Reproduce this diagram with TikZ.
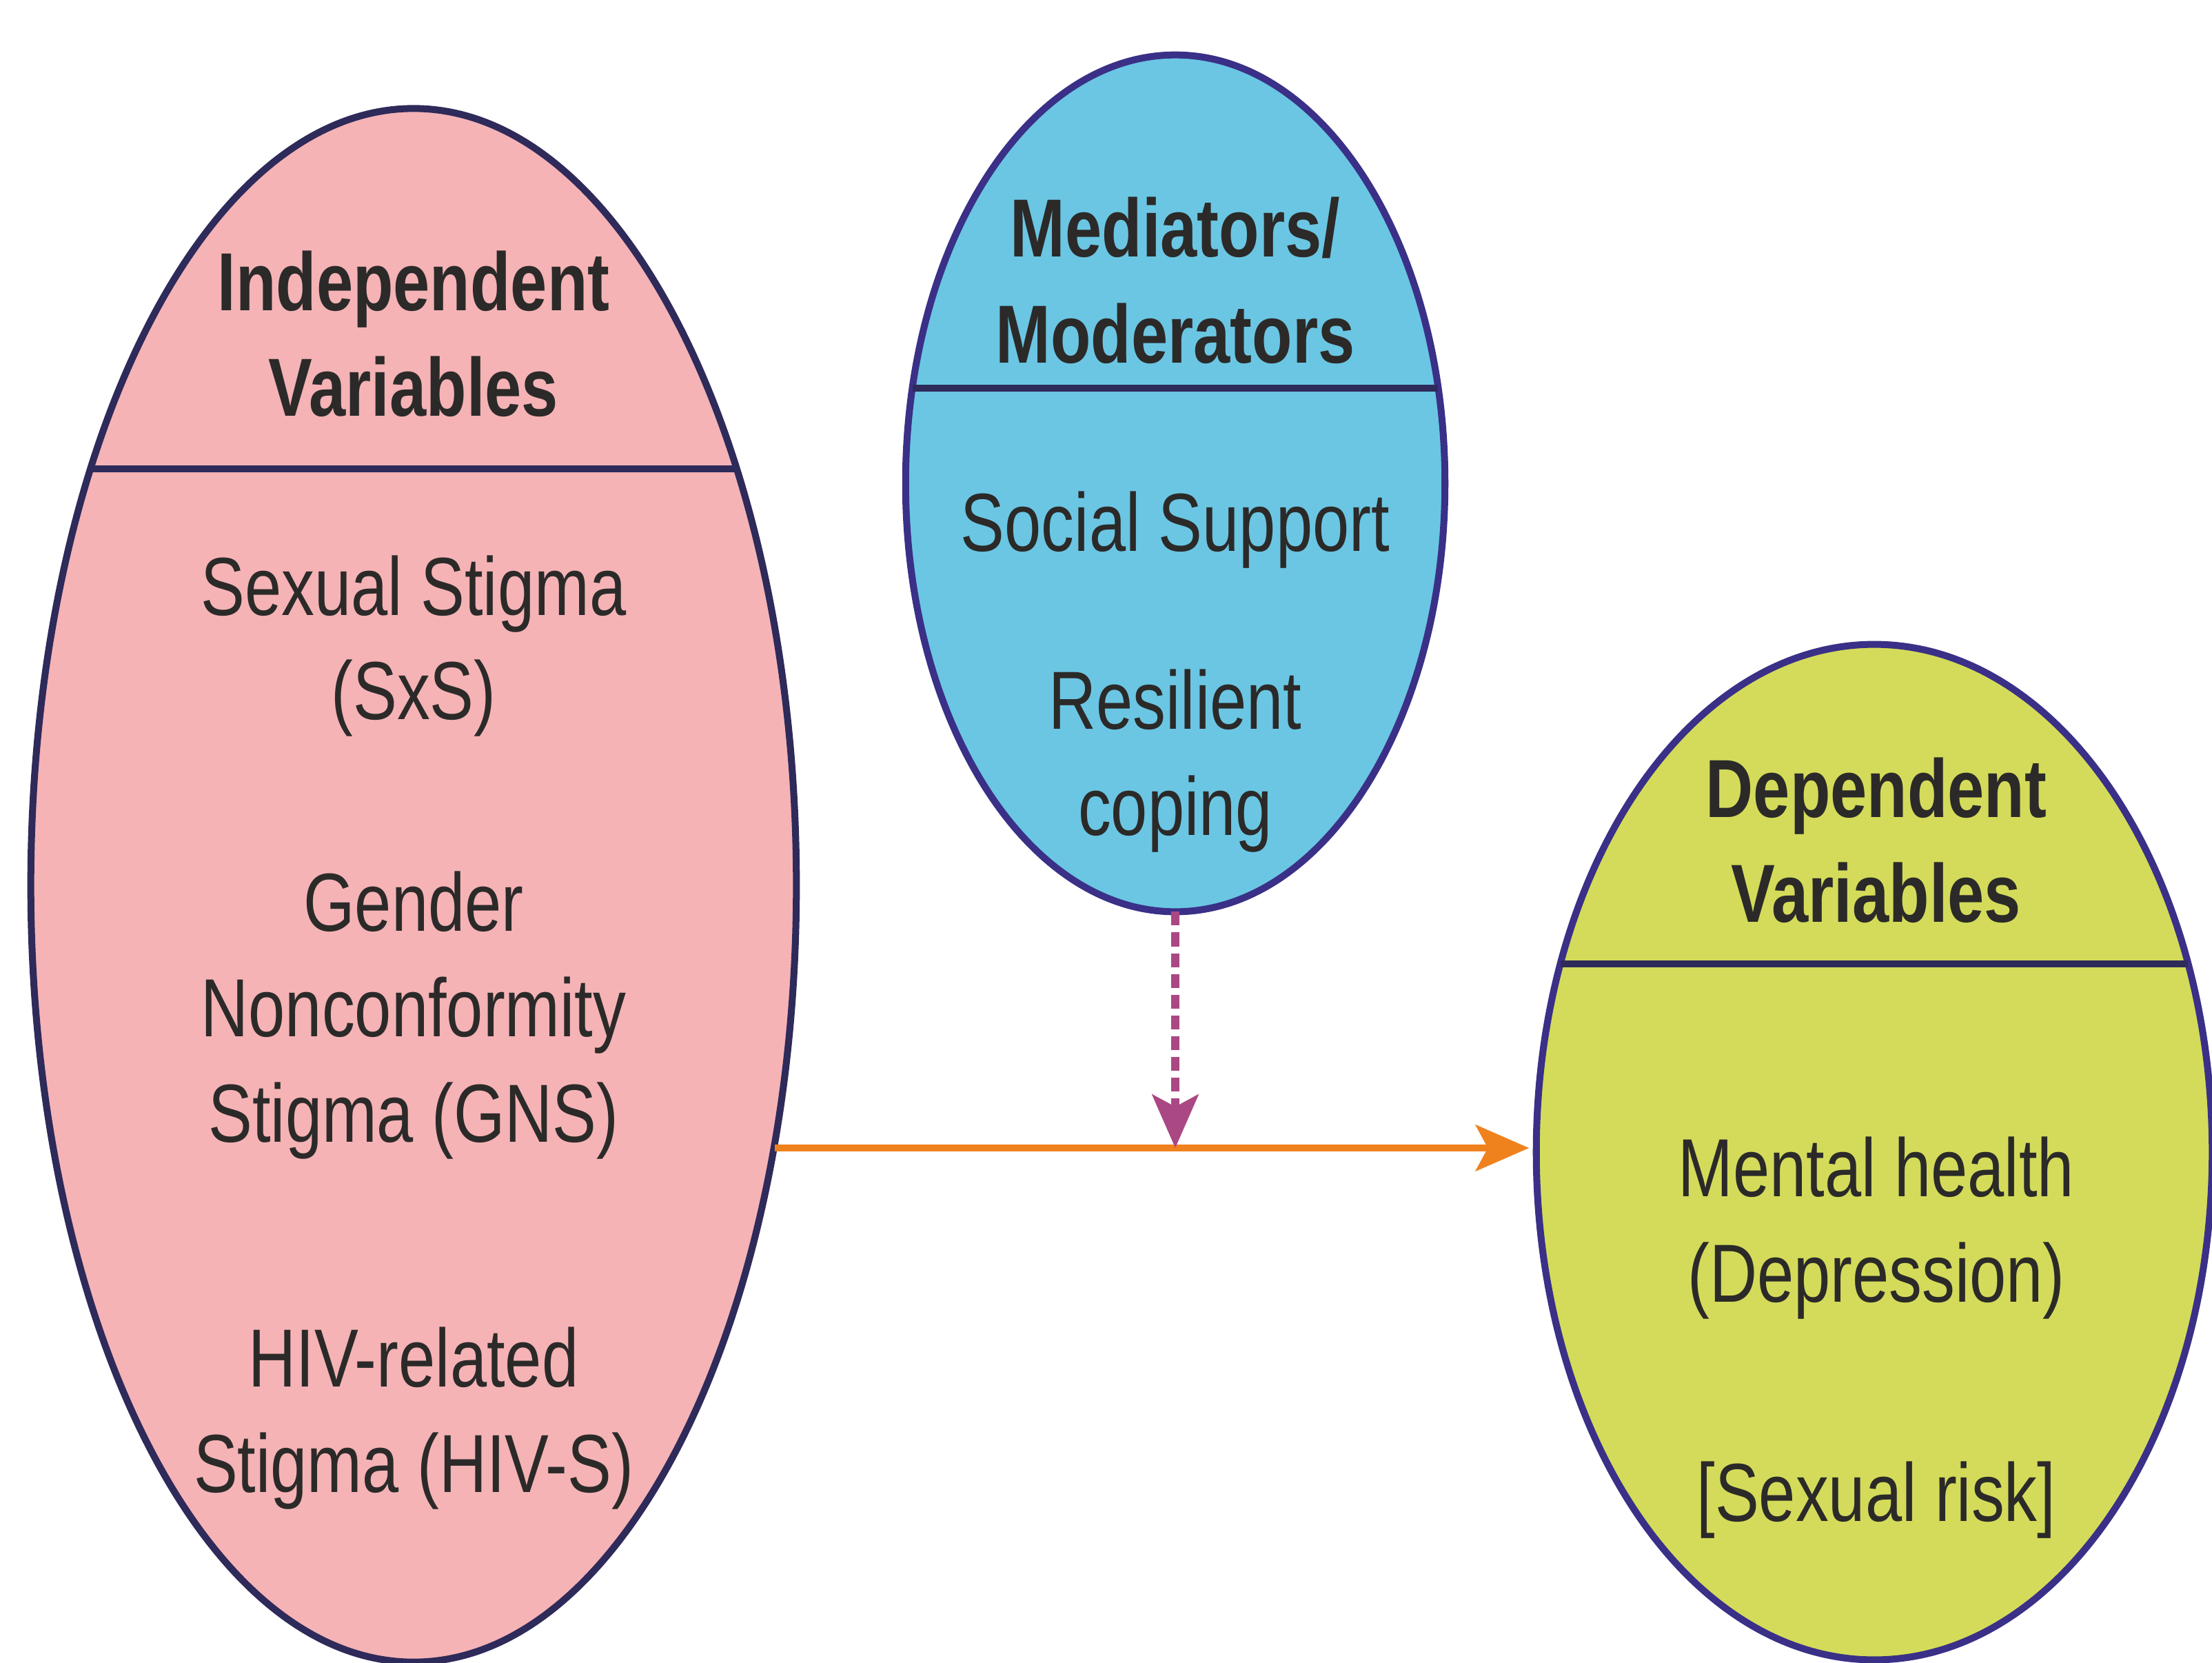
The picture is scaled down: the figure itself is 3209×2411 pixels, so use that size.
\documentclass[tikz,border=0pt]{standalone}
\usepackage{fontspec}
\setmainfont{Liberation Sans}[FakeStretch=0.8]
\usetikzlibrary{shapes.geometric,arrows.meta}
\definecolor{pinkfill}{HTML}{F5B3B6}
\definecolor{bluefill}{HTML}{6BC6E3}
\definecolor{limefill}{HTML}{D4DB5A}
\definecolor{navy}{HTML}{2E2A5A}
\definecolor{indigo}{HTML}{3A3087}
\definecolor{txtcol}{HTML}{2B2A29}
\definecolor{orangecol}{HTML}{F0821E}
\definecolor{magentacol}{HTML}{AA4884}
\begin{document}
\begin{tikzpicture}[x=0.01cm,y=-0.01cm,
  oval/.style={ellipse, inner sep=0pt, outer sep=0pt, line width=2.85pt},
  divider/.style={draw=navy, line width=3pt},
  txt/.style={anchor=base, inner sep=0pt, text=txtcol, font=\fontsize{34}{40}\selectfont},
  hd/.style={txt, font=\fontsize{34}{40}\selectfont\bfseries},
  mainarrow/.style={draw=orangecol, line width=2.85pt, -{Stealth[length=22pt, width=19pt, inset=5pt]}},
  modarrow/.style={draw=magentacol, line width=3.3pt, dash pattern=on 5.7pt off 2.85pt,
    -{Stealth[length=22pt, width=19pt, inset=5pt]}}
]
\useasboundingbox (0,0) rectangle (3209,2411);
\fill[white] (0,0) rectangle (3209,2411);

% ellipses
\node[oval, draw=navy, fill=pinkfill, minimum width=11.1cm, minimum height=22.52cm] (L) at (600,1284) {};
\node[oval, draw=indigo, fill=bluefill, minimum width=7.82cm, minimum height=12.42cm] (M) at (1705,701) {};
\node[oval, draw=indigo, fill=limefill, minimum width=9.80cm, minimum height=14.72cm] (R) at (2719,1671) {};

% dividers
\draw[divider] (131,680) -- (1069,680);
\draw[divider] (1324,563) -- (2086,563);
\draw[divider] (2264,1398) -- (3174,1398);

% left texts
\node[hd] (l1) at (600,450) {Independent};
\node[hd] (l2) at (600,603) {Variables};
\node[txt] (l3) at (600,892) {Sexual Stigma};
\node[txt] (l4) at (600,1043) {(SxS)};
\node[txt] (l5) at (600,1350) {Gender};
\node[txt] (l6) at (600,1503) {Nonconformity};
\node[txt] (l7) at (600,1656) {Stigma (GNS)};
\node[txt] (l8) at (600,2011) {HIV-related};
\node[txt] (l9) at (600,2164) {Stigma (HIV-S)};

% middle texts
\node[hd] (m1) at (1705,372) {Mediators/};
\node[hd] (m2) at (1705,526) {Moderators};
\node[txt] (m3) at (1705,799) {Social Support};
\node[txt] (m4) at (1705,1057) {Resilient};
\node[txt] (m5) at (1705,1211) {coping};

% right texts
\node[hd] (r1) at (2722,1185) {Dependent};
\node[hd] (r2) at (2722,1337) {Variables};
\node[txt] (r3) at (2722,1735) {Mental health};
\node[txt] (r4) at (2722,1888) {(Depression)};
\node[txt] (r5) at (2722,2206) {[Sexual risk]};

% connectors
\coordinate (J) at (1705,1665);
\coordinate (S) at (1124,1665);
\draw[mainarrow, shorten >=3pt] (S) -- (S -| R.west);
\draw[modarrow] (M.south) -- (J);
\end{tikzpicture}
\end{document}
